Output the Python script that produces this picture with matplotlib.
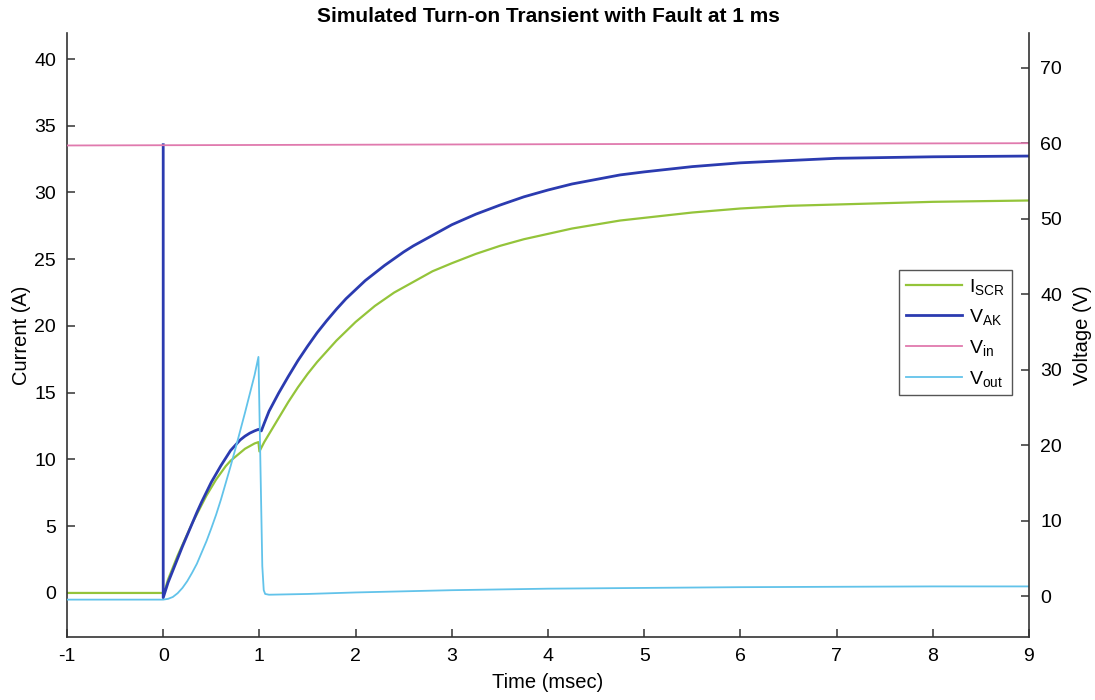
import matplotlib
matplotlib.use("Agg")
import matplotlib.pyplot as plt

plt.rcParams['font.family'] = ['Liberation Sans', 'DejaVu Sans']
plt.rcParams['mathtext.fontset'] = 'custom'
plt.rcParams['mathtext.rm'] = 'Liberation Sans'
plt.rcParams['mathtext.it'] = 'Liberation Sans:italic'
plt.rcParams['mathtext.bf'] = 'Liberation Sans:bold'
plt.rcParams['axes.unicode_minus'] = False

# SCR current (A)
t_iscr = [-1, 0, 0, 0.05, 0.1, 0.15, 0.2, 0.25, 0.3, 0.35, 0.4, 0.45, 0.5, 0.55,
          0.6, 0.65, 0.7, 0.75, 0.8, 0.85, 0.9, 0.95, 0.99, 1.0,
          1.05, 1.1, 1.2, 1.3, 1.4, 1.5, 1.6, 1.7, 1.8, 1.9, 2.0,
          2.1, 2.2, 2.3, 2.4, 2.5, 2.6, 2.7, 2.8, 2.9, 3.0,
          3.25, 3.5, 3.75, 4.0, 4.25, 4.5, 4.75, 5.0, 5.5, 6.0, 6.5,
          7.0, 7.5, 8.0, 8.5, 9.0]
i_scr = [0.0, 0.0, -0.2, 1.0, 1.9, 2.8, 3.6, 4.4, 5.2, 5.9, 6.6, 7.3, 7.9, 8.5,
         9.0, 9.5, 9.9, 10.2, 10.5, 10.8, 11.0, 11.2, 11.3, 10.6,
         11.3, 11.9, 13.1, 14.3, 15.4, 16.4, 17.3, 18.1, 18.9, 19.6, 20.3,
         20.9, 21.5, 22.0, 22.5, 22.9, 23.3, 23.7, 24.1, 24.4, 24.7,
         25.4, 26.0, 26.5, 26.9, 27.3, 27.6, 27.9, 28.1, 28.5, 28.8, 29.0,
         29.1, 29.2, 29.3, 29.35, 29.4]

# Anode-cathode voltage (V)
t_vak = [0, 0, 0.05, 0.1, 0.15, 0.2, 0.25, 0.3, 0.35, 0.4, 0.45, 0.5, 0.55,
         0.6, 0.65, 0.7, 0.75, 0.8, 0.85, 0.9, 0.95, 0.99, 1.02,
         1.05, 1.1, 1.2, 1.3, 1.4, 1.5, 1.6, 1.7, 1.8, 1.9, 2.0,
         2.1, 2.2, 2.3, 2.4, 2.5, 2.6, 2.7, 2.8, 2.9, 3.0,
         3.25, 3.5, 3.75, 4.0, 4.25, 4.5, 4.75, 5.0, 5.5, 6.0, 6.5,
         7.0, 7.5, 8.0, 8.5, 9.0]
v_ak = [59.8, -0.2, 1.8, 3.4, 5.0, 6.6, 8.1, 9.6, 11.1, 12.5, 13.8, 15.1, 16.2,
        17.3, 18.3, 19.3, 20.0, 20.7, 21.2, 21.6, 21.9, 22.1, 21.9,
        22.9, 24.5, 26.9, 29.1, 31.2, 33.1, 34.9, 36.5, 38.0, 39.4, 40.6,
        41.8, 42.8, 43.8, 44.7, 45.6, 46.4, 47.1, 47.8, 48.5, 49.2,
        50.6, 51.8, 52.9, 53.8, 54.6, 55.2, 55.8, 56.2, 56.9, 57.4, 57.7,
        58.0, 58.1, 58.2, 58.25, 58.3]

# Input voltage (V)
t_vin = [-1, 2, 5, 9]
v_in = [59.7, 59.8, 59.9, 60.0]

# Output voltage (V)
t_vout = [-1, 0, 0.05, 0.1, 0.15, 0.2, 0.25, 0.3, 0.35, 0.4, 0.45, 0.5, 0.55,
          0.6, 0.65, 0.7, 0.75, 0.8, 0.85, 0.9, 0.95, 0.99, 1.03,
          1.045, 1.06, 1.1, 1.5, 2.0, 3.0, 4.0, 5.0, 6.0, 7.0, 8.0, 9.0]
v_out = [-0.45, -0.45, -0.35, -0.1, 0.4, 1.1, 2.0, 3.1, 4.3, 5.8, 7.3, 9.0, 10.8,
         12.8, 15.0, 17.2, 19.5, 21.9, 24.3, 26.8, 29.3, 31.7, 4.0,
         0.8, 0.3, 0.2, 0.3, 0.5, 0.8, 1.0, 1.1, 1.2, 1.25, 1.3, 1.3]

x_ticks = list(range(-1, 10))
i_ticks = list(range(0, 41, 5))
v_ticks = list(range(0, 71, 10))

c_iscr = '#94c43a'
c_vak = '#2b3bb0'
c_vin = '#e07aae'
c_vout = '#62c3ea'
spine_c = '#333333'

fig = plt.figure(figsize=(10.95, 7.0), dpi=100)
ax = fig.add_axes([0.0612, 0.09, 0.8785, 0.8629])
ax2 = ax.twinx()

l1, = ax.plot(t_iscr, i_scr, color=c_iscr, lw=1.6, label=r'$\mathrm{I}_{\mathrm{SCR}}$')
l2, = ax2.plot(t_vak, v_ak, color=c_vak, lw=2.0, label=r'$\mathrm{V}_{\mathrm{AK}}$')
l3, = ax2.plot(t_vin, v_in, color=c_vin, lw=1.3, label=r'$\mathrm{V}_{\mathrm{in}}$')
l4, = ax2.plot(t_vout, v_out, color=c_vout, lw=1.3, label=r'$\mathrm{V}_{\mathrm{out}}$')

ax.set_xlim(-1, 9)
ax.set_ylim(-3.3, 41.95)
ax2.set_ylim(-5.4, 74.6)
ax.set_xticks(x_ticks)
ax.set_yticks(i_ticks)
ax2.set_yticks(v_ticks)

for a in (ax, ax2):
    a.spines['top'].set_visible(False)
    for s in a.spines.values():
        s.set_color(spine_c)
        s.set_linewidth(1.2)
    a.tick_params(direction='in', length=6, width=1.1, color=spine_c,
                  labelsize=14, pad=8)
ax.spines['right'].set_visible(False)
ax2.spines['left'].set_visible(False)
ax2.spines['bottom'].set_visible(False)

ax.set_xlabel('Time (msec)', fontsize=14.5, labelpad=6)
ax.set_ylabel('Current (A)', fontsize=14.5, labelpad=2)
ax2.set_ylabel('Voltage (V)', fontsize=14.5, labelpad=8)
ax.set_title('Simulated Turn-on Transient with Fault at 1 ms',
             fontsize=15, fontweight='bold', pad=8)

leg = ax2.legend(handles=[l1, l2, l3, l4], loc='upper right',
                 bbox_to_anchor=(0.982, 0.608), fontsize=14, frameon=True,
                 fancybox=False, edgecolor='#555555', framealpha=1,
                 handlelength=2.9, handletextpad=0.35, labelspacing=0.55,
                 borderpad=0.35, borderaxespad=0)
leg.get_frame().set_linewidth(1.0)

fig.savefig('out.png', dpi=100)
